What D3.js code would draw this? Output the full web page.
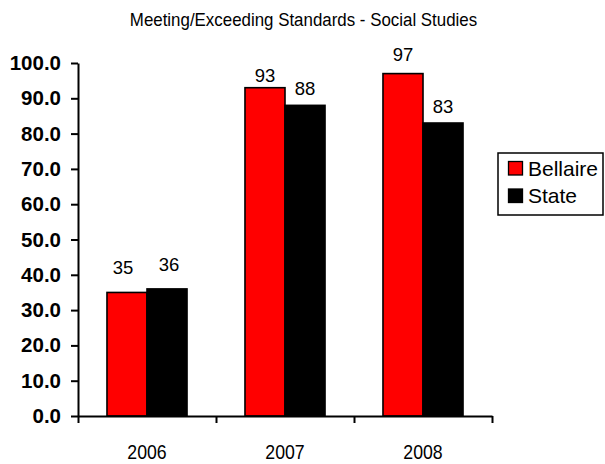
<!DOCTYPE html>
<html>
<head>
<meta charset="utf-8">
<script src="https://cdn.jsdelivr.net/npm/d3@7"></script>
<style>
  html, body { margin: 0; padding: 0; background: #fff; }
  svg { display: block; font-family: "Liberation Sans", Arial, sans-serif; }
</style>
</head>
<body>
<svg id="chart" width="605" height="464"></svg>
<script>
const title = "Meeting/Exceeding Standards - Social Studies";
const categories = ["2006", "2007", "2008"];
const seriesNames = ["Bellaire", "State"];
const bellaire = [35, 93, 97];
const state = [36, 88, 83];
const yTicks = [0, 10, 20, 30, 40, 50, 60, 70, 80, 90, 100];
const seriesColors = ["#ff0000", "#000000"];
// small manual nudges of value labels [dx, gap above bar], as in the original
const labelNudge = [
  [[-4, 18.5], [2, 18]],
  [[0, 5.5], [0, 10.5]],
  [[0, 13], [0, 10.5]]
];

const svg = d3.select("#chart");
const plotLeft = 78, plotRight = 492, plotTop = 63, plotBottom = 416;

const x = d3.scaleBand().domain(categories).range([plotLeft, plotRight])
  .paddingInner(0.42).paddingOuter(0.21);
const xs = d3.scaleBand().domain(seriesNames).range([0, x.bandwidth()]);
const y = d3.scaleLinear().domain([0, 100]).range([plotBottom, plotTop]);

const seriesValues = [bellaire, state];

// Bars
const groups = svg.append("g").selectAll("g")
  .data(categories)
  .join("g")
  .attr("transform", d => `translate(${x(d)},0)`);

groups.selectAll("rect")
  .data((c, i) => seriesNames.map((s, j) => ({ s, j, i, v: seriesValues[j][i] })))
  .join("rect")
  .attr("x", d => xs(d.s))
  .attr("y", d => y(d.v))
  .attr("width", xs.bandwidth())
  .attr("height", d => y(0) - y(d.v))
  .attr("fill", d => seriesColors[d.j])
  .attr("stroke", "#000")
  .attr("stroke-width", 1.6);

groups.selectAll("text")
  .data((c, i) => seriesNames.map((s, j) => ({ s, j, i, v: seriesValues[j][i] })))
  .join("text")
  .attr("x", d => xs(d.s) + xs.bandwidth() / 2 + labelNudge[d.i][d.j][0])
  .attr("y", d => y(d.v) - labelNudge[d.i][d.j][1])
  .attr("text-anchor", "middle")
  .attr("font-size", "18.5px")
  .attr("fill", "#000")
  .text(d => d.v);

// Y axis
const yAxis = svg.append("g")
  .attr("transform", `translate(${plotLeft},0)`)
  .call(d3.axisLeft(y).tickValues(yTicks).tickSize(7).tickSizeOuter(0)
    .tickPadding(10).tickFormat(d3.format(".1f")));
yAxis.selectAll("path, line").attr("stroke", "#000").attr("stroke-width", 2);
yAxis.selectAll("text")
  .attr("font-size", "20.5px")
  .attr("font-weight", "bold")
  .attr("font-family", "'Liberation Sans', Arial, sans-serif")
  .attr("fill", "#000");

// X axis (ticks at category boundaries)
const xb = d3.scaleLinear().domain([0, categories.length]).range([plotLeft, plotRight]);
const xAxis = svg.append("g")
  .attr("transform", `translate(0,${plotBottom})`)
  .call(d3.axisBottom(xb).tickValues(d3.range(categories.length + 1))
    .tickSize(7).tickSizeOuter(0).tickFormat(""));
xAxis.selectAll("path, line").attr("stroke", "#000").attr("stroke-width", 2);

// Category labels
svg.append("g").selectAll("text")
  .data(categories)
  .join("text")
  .attr("transform", d => `translate(${x(d) + x.bandwidth() / 2},459) scale(1,1.12)`)
  .attr("text-anchor", "middle")
  .attr("font-size", "17.7px")
  .attr("fill", "#000")
  .text(d => d);

// Title
svg.append("text")
  .attr("transform", "translate(303.5,25.5) scale(1,1.08)")
  .attr("text-anchor", "middle")
  .attr("font-size", "16.9px")
  .attr("fill", "#000")
  .text(title);

// Legend
const legend = svg.append("g");
legend.append("rect")
  .attr("x", 498).attr("y", 153).attr("width", 105).attr("height", 62)
  .attr("fill", "#fff").attr("stroke", "#000").attr("stroke-width", 1.5);
const items = legend.selectAll("g.item")
  .data(seriesNames)
  .join("g")
  .attr("class", "item")
  .attr("transform", (d, i) => `translate(0,${i * 27.5})`);
items.append("rect")
  .attr("x", 508.5).attr("y", 161.5).attr("width", 14).attr("height", 13.5)
  .attr("fill", (d, i) => seriesColors[i])
  .attr("stroke", "#000").attr("stroke-width", 1.3);
items.append("text")
  .attr("x", 528).attr("y", 175.5)
  .attr("font-size", "21px")
  .attr("fill", "#000")
  .text(d => d);
</script>
</body>
</html>
